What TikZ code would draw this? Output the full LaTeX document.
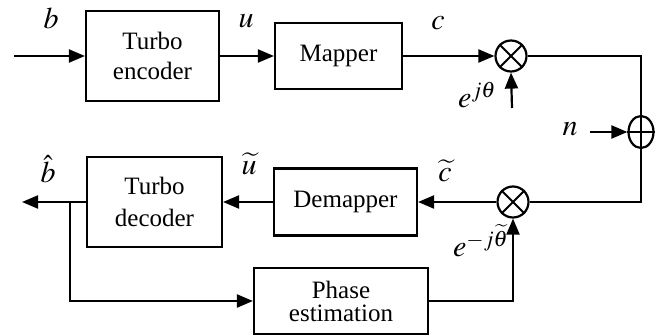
\documentclass[tikz,border=0pt]{standalone}
\usepackage{mathptmx}
\usepackage{fontspec}
\setmainfont{Liberation Serif}
\usetikzlibrary{arrows.meta,shapes.geometric}
\begin{document}
\begin{tikzpicture}[x=1pt,y=-1pt,
  line width=2.2pt,
  arr/.style={-{Triangle[length=16pt,width=13pt]}},
  blk/.style={draw,rectangle,inner sep=0pt,align=center,font=\fontsize{25}{30}\selectfont},
  mix/.style={draw,circle,inner sep=0pt,minimum size=31pt},
  lbl/.style={anchor=base,inner sep=0pt,font=\fontsize{30}{32}\selectfont},
  lblw/.style={anchor=base west,inner sep=0pt,font=\fontsize{30}{32}\selectfont}]
\useasboundingbox (0,0) rectangle (666,336);
% blocks
\node[blk,minimum width=133pt,minimum height=90pt] (enc) at (152.5,56) {Turbo\\encoder};
\node[blk,minimum width=127pt,minimum height=66pt] (map) at (338.5,56) {Mapper};
\node[mix] (mul1) at (511,56) {};
\node[draw,ellipse,inner sep=0pt,minimum width=25pt,minimum height=32pt] (add) at (641,132) {};
\node[mix] (mul2) at (513,202) {};
\node[blk,minimum width=143pt,minimum height=67pt] (dem) at (345.5,202) {Demapper};
\node[blk,minimum width=135pt,minimum height=90pt,font=\fontsize{25}{32}\selectfont] (dec) at (154.5,202) {Turbo\\decoder};
\node[blk,minimum width=174pt,minimum height=66pt,font=\fontsize{25}{23}\selectfont] (pe) at (341,301) {Phase\\estimation};
% symbols inside mixers
\draw[line width=2pt] (mul1.45) -- (mul1.225) (mul1.135) -- (mul1.315);
\draw[line width=2pt] (mul2.45) -- (mul2.225) (mul2.135) -- (mul2.315);
\draw[line width=2pt] (add.north) -- (add.south) (add.west) -- (add.east);
% coordinates
\coordinate (in1) at (14,56);
\coordinate (ej) at (512,108);
\coordinate (nin) at (590,132);
\coordinate (out) at (22,202);
\coordinate (br) at (70,202);
% connectors
\draw[arr] (in1) -- (enc.west);
\draw[arr] (enc.east) -- (map.west);
\draw[arr] (map.east) -- (mul1.west);
\draw[arr] (ej) -- (mul1.south);
\draw (mul1.east) -- (add |- mul1) -- (add.north);
\draw[arr] (nin) -- (add.west);
\draw (add.south) -- (add |- mul2) -- (mul2.east);
\draw[arr] (mul2.west) -- (dem.east);
\draw[arr] (dem.west) -- (dec.east);
\draw[arr] (dec.west) -- (out);
\draw[arr] (br) -- (br |- pe) -- (pe.west);
\draw[arr] (pe.east) -- (mul2 |- pe) -- (mul2.south);
% labels
\node[lbl] (lb) at (51,29) {$b$};
\node[lbl] (lu) at (246,28) {$u$};
\node[lbl] (lc) at (438,30) {$c$};
\node[lblw] (le1) at (457,108) {$e^{j\theta}$};
\node[lbl] (ln) at (570,136) {$n$};
\node[lbl] (lbh) at (48,183) {$\hat{b}$};
\node[lbl] (lut) at (249,175) {$\widetilde{u}$};
\node[lbl] (lct) at (445,182) {$\widetilde{c}$};
\node[lblw] (le2) at (452,257) {$e^{-j\widetilde{\theta}}$};
\end{tikzpicture}
\end{document}
